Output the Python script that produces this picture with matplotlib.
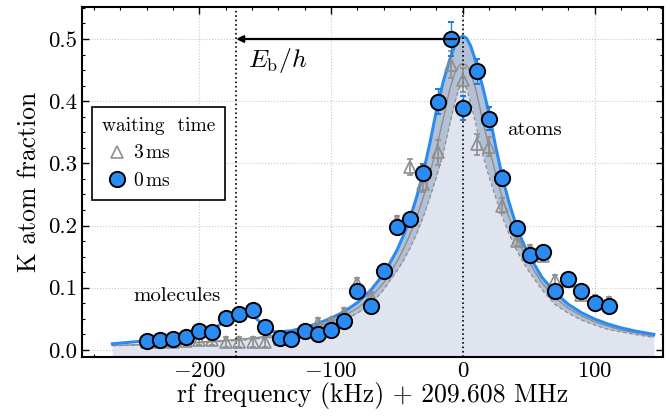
import matplotlib
matplotlib.use('Agg')
import matplotlib.pyplot as plt
from matplotlib.lines import Line2D
from matplotlib.ticker import MultipleLocator, FormatStrFormatter

plt.rcParams['font.family'] = ['cmr10', 'DejaVu Serif']
plt.rcParams['mathtext.fontset'] = 'cm'
plt.rcParams['axes.formatter.use_mathtext'] = True
plt.rcParams['axes.unicode_minus'] = False

# measured points (kHz, K atom fraction)
freq = [-240, -230, -220, -210, -200, -190, -180, -170, -159, -150, -139, -130,
        -120, -110, -100, -90, -80, -70, -60, -50, -40, -30, -19, -9,
        0, 11, 20, 30, 41, 51, 61, 70, 80, 90, 100, 111]
frac_0ms = [0.015, 0.016, 0.017, 0.021, 0.030, 0.029, 0.051, 0.058, 0.064, 0.037, 0.019, 0.018,
            0.030, 0.025, 0.032, 0.046, 0.095, 0.071, 0.127, 0.197, 0.210, 0.285, 0.399, 0.500,
            0.389, 0.448, 0.372, 0.276, 0.196, 0.153, 0.158, 0.095, 0.114, 0.095, 0.075, 0.070]
err_0ms = [0.008, 0.008, 0.008, 0.008, 0.008, 0.008, 0.008, 0.008, 0.008, 0.008, 0.008, 0.008,
           0.008, 0.008, 0.008, 0.008, 0.008, 0.008, 0.008, 0.008, 0.010, 0.014, 0.020, 0.027,
           0.019, 0.020, 0.018, 0.013, 0.010, 0.008, 0.008, 0.008, 0.008, 0.008, 0.008, 0.008]
frac_3ms = [0.012, 0.013, 0.013, 0.015, 0.016, 0.016, 0.012, 0.012, 0.012, 0.012, 0.018, 0.018,
            0.032, 0.043, 0.044, 0.060, 0.107, 0.085, 0.130, 0.207, 0.294, 0.267, 0.318, 0.459,
            0.434, 0.331, 0.327, 0.232, 0.175, 0.160, 0.151, 0.112, 0.110, 0.088, 0.080, 0.077]
err_3ms = [0.008, 0.008, 0.008, 0.008, 0.008, 0.008, 0.008, 0.008, 0.008, 0.008, 0.008, 0.008,
           0.008, 0.008, 0.008, 0.008, 0.008, 0.008, 0.008, 0.008, 0.013, 0.013, 0.020, 0.022,
           0.020, 0.017, 0.015, 0.012, 0.008, 0.008, 0.008, 0.008, 0.008, 0.008, 0.008, 0.008]

# fit curves
fit_x = [-266, -250, -240, -230, -220, -210, -200, -195, -190, -185, -180, -175, -170, -165,
         -160, -155, -150, -145, -140, -130, -120, -110, -100, -90, -80, -70, -60, -50, -45,
         -40, -35, -30, -25, -20, -15, -10, -6, -3, 0, 3, 6, 10, 15, 20, 25, 30, 35, 40, 45,
         50, 60, 70, 80, 90, 100, 110, 120, 130, 145]
fit_0ms = [0.0097, 0.0127, 0.0144, 0.0172, 0.0201, 0.0242, 0.0284, 0.0301, 0.0318, 0.0396,
           0.0504, 0.0564, 0.0604, 0.0614, 0.0566, 0.0469, 0.0353, 0.0299, 0.0286, 0.0308,
           0.0360, 0.0425, 0.0508, 0.0615, 0.0760, 0.0955, 0.122, 0.160, 0.184, 0.212, 0.246,
           0.285, 0.332, 0.385, 0.430, 0.466, 0.490, 0.501, 0.505, 0.501, 0.489, 0.463, 0.424,
           0.380, 0.327, 0.278, 0.238, 0.204, 0.176, 0.153, 0.117, 0.092, 0.0734, 0.0598,
           0.0496, 0.0417, 0.0355, 0.0306, 0.0249]
fit_atoms = [0.0077, 0.0087, 0.0094, 0.0102, 0.0111, 0.0122, 0.0134, 0.0141, 0.0148, 0.0156,
             0.0164, 0.0174, 0.0184, 0.0194, 0.0206, 0.0219, 0.0233, 0.0249, 0.0266, 0.0308,
             0.0360, 0.0425, 0.0508, 0.0615, 0.0760, 0.0955, 0.122, 0.160, 0.184, 0.212, 0.246,
             0.285, 0.332, 0.385, 0.430, 0.466, 0.490, 0.501, 0.505, 0.501, 0.489, 0.463, 0.424,
             0.380, 0.327, 0.278, 0.238, 0.204, 0.176, 0.153, 0.117, 0.092, 0.0734, 0.0598,
             0.0496, 0.0417, 0.0355, 0.0306, 0.0249]
fit_3ms = [0.0072, 0.0081, 0.0088, 0.0095, 0.0104, 0.0114, 0.0125, 0.0131, 0.0138, 0.0145,
           0.0152, 0.0160, 0.0170, 0.0180, 0.0190, 0.0200, 0.0213, 0.0228, 0.0245, 0.028,
           0.032, 0.038, 0.045, 0.055, 0.067, 0.084, 0.108, 0.142, 0.162, 0.186, 0.213,
           0.245, 0.283, 0.325, 0.370, 0.418, 0.446, 0.457, 0.461, 0.457, 0.446, 0.418, 0.370,
           0.325, 0.283, 0.245, 0.213, 0.186, 0.162, 0.142, 0.108, 0.084, 0.067, 0.055,
           0.045, 0.038, 0.032, 0.028, 0.022]
fit_low = [0.0066, 0.0075, 0.0081, 0.0088, 0.0096, 0.0105, 0.0115, 0.0120, 0.0127, 0.0133,
           0.0140, 0.0145, 0.0150, 0.0160, 0.0170, 0.0180, 0.0190, 0.0200, 0.0220, 0.025,
           0.029, 0.033, 0.040, 0.048, 0.059, 0.073, 0.097, 0.127, 0.144, 0.164, 0.187,
           0.214, 0.245, 0.278, 0.315, 0.362, 0.398, 0.420, 0.429, 0.420, 0.398, 0.362, 0.315,
           0.278, 0.245, 0.214, 0.187, 0.164, 0.144, 0.127, 0.097, 0.073, 0.059, 0.048,
           0.040, 0.033, 0.029, 0.025, 0.020]

binding_freq = -172
peak_freq = -5
peak_frac = 0.5

blue = '#2a8cf3'
grey = '#8e8e8e'
ylo = -0.011

fig = plt.figure(figsize=(6.7, 4.18), dpi=100)
ax = fig.add_axes([0.1224, 0.1467, 0.8672, 0.8358])

ax.fill_between(fit_x, ylo, fit_low, color='#dfe4ee', lw=0, zorder=1)
ax.fill_between(fit_x, fit_low, fit_atoms, color='#b3c1d7', lw=0, zorder=1)
ax.plot(fit_x, fit_low, color=grey, lw=0.9, ls=(0, (3, 2)), zorder=2)
ax.plot(fit_x, fit_3ms, color=grey, lw=1.0, zorder=2)
ax.plot(fit_x, fit_0ms, color=blue, lw=2.2, zorder=3)

ax.axvline(0, color='black', ls=':', lw=1.2, zorder=3)
ax.axvline(binding_freq, color='black', ls=':', lw=1.2, zorder=3)

ax.errorbar(freq, frac_3ms, yerr=err_3ms, fmt='^', ms=8, mfc='none', mec=grey, mew=1.2,
            ecolor=grey, elinewidth=1.2, capsize=2.5, zorder=4)
ax.errorbar(freq, frac_0ms, yerr=err_0ms, fmt='o', ms=11, mfc=blue, mec='black', mew=1.4,
            ecolor='#1f7ce0', elinewidth=1.0, capsize=2, zorder=5)

ax.annotate('', xy=(binding_freq, peak_frac), xytext=(peak_freq, peak_frac),
            arrowprops=dict(arrowstyle='-|>', color='black', lw=1.6,
                            mutation_scale=10, shrinkA=0, shrinkB=0), zorder=6)
ax.text(binding_freq + 9, 0.466, r'$E_\mathrm{b}/h$', fontsize=18.5, va='center', ha='left')
ax.text(54.5, 0.354, 'atoms', fontsize=15, ha='center', va='center')
ax.text(-217, 0.087, 'molecules', fontsize=15, ha='center', va='center')

ax.set_xlim(-289, 152)
ax.set_ylim(ylo, 0.551)
ax.xaxis.set_major_locator(MultipleLocator(100))
ax.xaxis.set_minor_locator(MultipleLocator(20))
ax.yaxis.set_major_locator(MultipleLocator(0.1))
ax.yaxis.set_minor_locator(MultipleLocator(0.025))
ax.yaxis.set_major_formatter(FormatStrFormatter('%.1f'))
ax.tick_params(which='both', direction='in', top=True, right=True, labelsize=16.5)
ax.tick_params(which='major', length=5, width=1)
ax.tick_params(which='minor', length=2.5, width=0.8)
ax.grid(True, which='major', color='#c8c8c8', ls=':', lw=0.8)
ax.set_axisbelow(True)
for s in ax.spines.values():
    s.set_linewidth(1.5)

ax.set_xlabel('rf frequency (kHz) + 209.608 MHz', fontsize=18.5, labelpad=1)
ax.set_ylabel('K atom fraction', fontsize=18.5, labelpad=5)

handles = [
    Line2D([], [], ls='none', marker='^', ms=8, mfc='none', mec=grey, mew=1.2),
    Line2D([], [], ls='none', marker='o', ms=11, mfc=blue, mec='black', mew=1.4),
]
leg = ax.legend(handles, [r'$3\,\mathrm{ms}$', r'$0\,\mathrm{ms}$'], title='waiting  time',
                loc='upper left', bbox_to_anchor=(0.017, 0.715), borderaxespad=0, fontsize=14,
                title_fontsize=14, fancybox=False, framealpha=1, edgecolor='black',
                alignment='left', borderpad=0.5, handletextpad=0.0, handlelength=1.6)
leg.get_frame().set_linewidth(1.2)
leg.set_zorder(10)

fig.savefig('out.png', dpi=100)
